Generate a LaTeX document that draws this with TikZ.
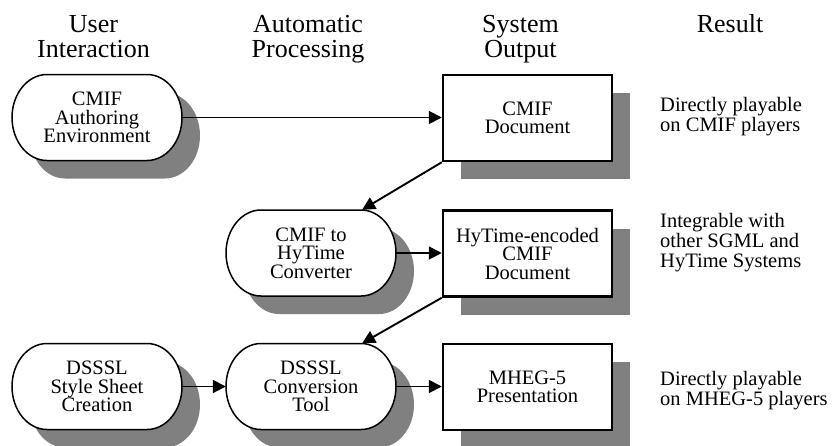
\documentclass[tikz,border=0pt]{standalone}
\usepackage{fontspec}
\setmainfont{Liberation Serif}
\usetikzlibrary{arrows.meta,calc,shadows}
\definecolor{shadowgray}{HTML}{808080}
\tikzset{
  hdr/.style={font=\fontsize{26}{25}\selectfont, inner sep=0pt, anchor=base},
  procnode/.style={minimum width=170pt, minimum height=86pt, inner sep=0pt, align=center, font=\fontsize{20.5}{18.5}\selectfont},
  outbox/.style={draw, line width=2.5pt, fill=white, minimum width=169pt, minimum height=86pt, inner sep=0pt, align=center, font=\fontsize{20.5}{18.5}\selectfont,
    general shadow={fill=shadowgray, shadow xshift=18pt, shadow yshift=-18pt}},
  res/.style={font=\fontsize{20.5}{20}\selectfont, align=left, anchor=west, inner sep=0pt},
  flow/.style={line width=1.9pt, -{Triangle[length=13pt,width=13pt]}},
  stadline/.style={line width=1.5pt, fill=white},
}
\newcommand\procshape[2]{%
  \fill[shadowgray, shift={(#1+18,#2+18)}] (-50,-43) -- (50,-43) .. controls (69.3,-43) and (85,-23.7) .. (85,0) .. controls (85,23.7) and (69.3,43) .. (50,43) -- (-50,43) .. controls (-69.3,43) and (-85,23.7) .. (-85,0) .. controls (-85,-23.7) and (-69.3,-43) .. (-50,-43) -- cycle;
  \draw[stadline, shift={(#1,#2)}] (-50,-43) -- (50,-43) .. controls (69.3,-43) and (85,-23.7) .. (85,0) .. controls (85,23.7) and (69.3,43) .. (50,43) -- (-50,43) .. controls (-69.3,43) and (-85,23.7) .. (-85,0) .. controls (-85,-23.7) and (-69.3,-43) .. (-50,-43) -- cycle;
}
\begin{document}
\begin{tikzpicture}[x=1pt,y=-1pt]
\useasboundingbox (0,0) rectangle (835,445);

% headers
\node[hdr] (h1a) at (93.5,32) {User};
\node[hdr] (h1b) at (93.5,57) {Interaction};
\node[hdr] (h2a) at (308,32) {Automatic};
\node[hdr] (h2b) at (308,57) {Processing};
\node[hdr] (h3a) at (520.5,32) {System};
\node[hdr] (h3b) at (520.5,57) {Output};
\node[hdr] (h4a) at (730,32) {Result};

% process shapes
\procshape{97}{117.5}
\procshape{311}{253}
\procshape{97}{386.5}
\procshape{311}{386.5}
\node[procnode] (p1) at (97,117.5) {CMIF\\Authoring\\Environment};
\node[procnode] (p2) at (311,253) {CMIF to\\HyTime\\Converter};
\node[procnode] (p3) at (97,386.5) {DSSSL\\Style Sheet\\Creation};
\node[procnode] (p4) at (311,386.5) {DSSSL\\Conversion\\Tool};

% output boxes
\node[outbox] (o1) at (527.5,118) {CMIF\\Document};
\node[outbox] (o2) at (527.5,253.5) {HyTime-encoded\\CMIF\\Document};
\node[outbox] (o3) at (527.5,387) {MHEG-5\\Presentation};

% results
\node[res] (r1) at (660,117) {Directly playable\\on CMIF players};
\node[res] (r2) at (660,243) {Integrable with\\other SGML and\\HyTime Systems};
\node[res] (r3) at (660,391) {Directly playable\\on MHEG-5 players};

% connectors
\draw[flow] (p1.east) -- (p1.east -| o1.west);
\draw[flow] (o1.south west) -- ($(p2.north)!0.6!(p2.north east)$);
\draw[flow] (p2.east) -- (p2.east -| o2.west);
\draw[flow] (o2.south west) -- ($(p4.north)!0.6!(p4.north east)$);
\draw[flow] (p3.east) -- (p3.east -| p4.west);
\draw[flow] (p4.east) -- (p4.east -| o3.west);
\end{tikzpicture}
\end{document}
